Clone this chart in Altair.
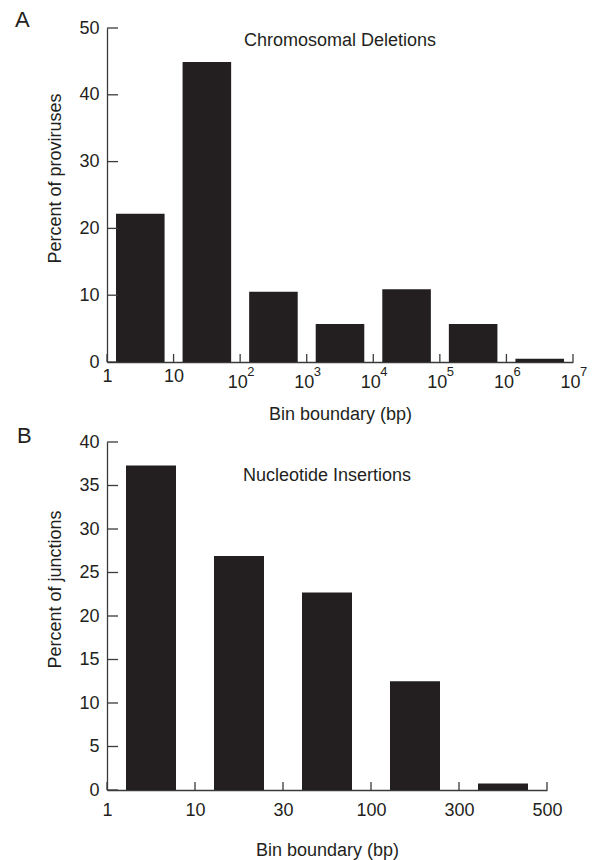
import altair as alt
import pandas as pd

# ---------------- data ----------------
# Panel A: chromosomal deletions, bins bounded by powers of ten (exponent index)
a_lo = [0, 1, 2, 3, 4, 5, 6]
a_hi = [1, 2, 3, 4, 5, 6, 7]
a_pct = [22.2, 44.9, 10.5, 5.7, 10.9, 5.7, 0.5]
a_tick_pos = [0, 1, 2, 3, 4, 5, 6, 7]
a_tick_labels = ["1", "10", "10", "10", "10", "10", "10", "10"]
a_exp_pos = [2, 3, 4, 5, 6, 7]
a_exp_text = ["2", "3", "4", "5", "6", "7"]
a_yticks = [0, 10, 20, 30, 40, 50]

# Panel B: nucleotide insertions
b_lo = [0, 1, 2, 3, 4]
b_hi = [1, 2, 3, 4, 5]
b_pct = [37.3, 26.9, 22.7, 12.5, 0.76]
b_tick_pos = [0, 1, 2, 3, 4, 5]
b_tick_labels = ["1", "10", "30", "100", "300", "500"]
b_yticks = [0, 5, 10, 15, 20, 25, 30, 35, 40]

INK = "#231f20"
AX = "#3a3a3a"
FONT = "Liberation Sans"


def label_expr(labels):
    parts = " : ".join(
        f"datum.value == {i} ? '{s}'" for i, s in enumerate(labels[:-1])
    )
    return parts + f" : '{labels[-1]}'"


def panel(lo, hi, pct, tick_pos, tick_labels, yticks, ymax, w, h, inset,
          ytitle, title, title_y, letter, letter_x, letter_y, ytitle_y, xtitle_y,
          label_pad, label_off=0, exp=None):
    df = pd.DataFrame({"lo": lo, "hi": hi, "pct": pct, "base": [0] * len(lo)})
    xs = alt.Scale(domain=[tick_pos[0], tick_pos[-1]], nice=False, zero=False)
    ys = alt.Scale(domain=[0, ymax], nice=False)
    xax = alt.Axis(
        values=tick_pos,
        labelExpr=label_expr(tick_labels),
        ticks=False, grid=False, labelFlush=False,
        labelPadding=label_pad, labelOffset=label_off,
        labelFontSize=18, labelFont=FONT, labelColor=INK,
        domainColor=AX, domainWidth=1.3,
        title="Bin boundary (bp)", titleFont=FONT, titleFontSize=18,
        titleFontWeight="normal", titleColor=INK, titleX=w / 2, titleY=xtitle_y,
        titleBaseline="alphabetic", titleAlign="center")
    yax = alt.Axis(
        values=yticks, ticks=False, grid=False,
        labelPadding=8, labelFontSize=18, labelFont=FONT, labelColor=INK,
        domainColor=AX, domainWidth=1.3,
        title=ytitle, titleFont=FONT, titleFontSize=18, titleFontWeight="normal",
        titleColor=INK, titleX=-47, titleY=ytitle_y, titleAngle=270,
        titleBaseline="alphabetic", titleAlign="center")
    bars = alt.Chart(df).mark_bar(color=INK, xOffset=inset, x2Offset=-inset).encode(
        x=alt.X("lo:Q", scale=xs, axis=xax),
        x2="hi:Q",
        y=alt.Y("pct:Q", scale=ys, axis=yax),
        y2="base:Q",
    )
    yt = alt.Chart(pd.DataFrame({"v": yticks})).mark_rule(color=AX, strokeWidth=1.3).encode(
        y=alt.Y("v:Q", scale=ys, axis=yax), x=alt.value(0), x2=alt.value(11))
    xt = alt.Chart(pd.DataFrame({"v": tick_pos})).mark_rule(color=AX, strokeWidth=1.3).encode(
        x=alt.X("v:Q", scale=xs, axis=xax), y=alt.value(h), y2=alt.value(h - 8))
    ttl = alt.Chart(alt.Data(values=[{"t": title}])).mark_text(
        font=FONT, fontSize=18, color=INK, baseline="alphabetic").encode(
        x=alt.value(w / 2), y=alt.value(title_y), text="t:N")
    let = alt.Chart(alt.Data(values=[{"t": letter}])).mark_text(
        font=FONT, fontSize=22, color=INK, align="left", baseline="alphabetic").encode(
        x=alt.value(letter_x), y=alt.value(letter_y), text="t:N")
    layers = [bars, yt, xt, ttl, let]
    if exp is not None:
        dfe = pd.DataFrame({"p": exp[0], "e": exp[1]})
        layers.append(alt.Chart(dfe).mark_text(
            font=FONT, fontSize=13, color=INK, align="left", baseline="top", dx=7).encode(
            x=alt.X("p:Q", scale=xs, axis=xax), y=alt.value(h + 4), text="e:N"))
    return alt.layer(*layers).properties(width=w, height=h)


pa = panel(a_lo, a_hi, a_pct, a_tick_pos, a_tick_labels, a_yticks, 50, 466, 334, 9,
           "Percent of proviruses", "Chromosomal Deletions", 18, "A", -92, -1, 150, 57,
           {"condition": {"test": "datum.value >= 2", "value": 11}, "value": 5},
           {"condition": {"test": "datum.value >= 2", "value": -3}, "value": 0},
           exp=(a_exp_pos, a_exp_text))
pb = panel(b_lo, b_hi, b_pct, b_tick_pos, b_tick_labels, b_yticks, 40, 440, 348, 19,
           "Percent of junctions", "Nucleotide Insertions", 39, "B", -90, 1, 147, 65, 11)

chart = alt.vconcat(pa, pb, spacing=80, bounds="flush").properties(
    padding={"left": 15, "top": 9, "right": 4, "bottom": 4},
    background="white",
).configure_view(stroke=None)

chart.save("out.html", embed_options={"renderer": "svg", "actions": False})
